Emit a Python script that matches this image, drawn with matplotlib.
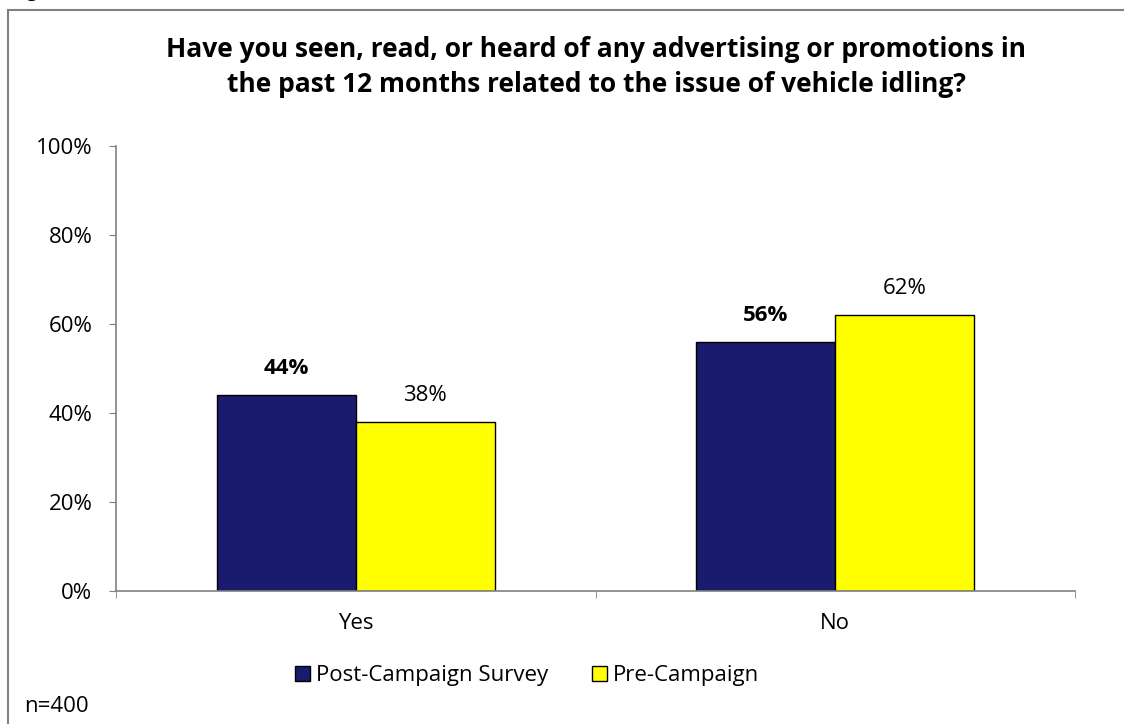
import numpy as np
import matplotlib
matplotlib.use("Agg")
import matplotlib.pyplot as plt
from matplotlib.patches import Rectangle

# Data
categories = ["Yes", "No"]
series_names = ["Post-Campaign Survey", "Pre-Campaign"]
post_campaign = [44, 56]
pre_campaign = [38, 62]
y_ticks = [0, 20, 40, 60, 80, 100]
title_lines = ["Have you seen, read, or heard of any advertising or promotions in",
               "the past 12 months related to the issue of vehicle idling?"]

plt.rcParams['font.family'] = ['Open Sans', 'DejaVu Sans']

W, H = 1124, 724
fig = plt.figure(figsize=(W / 100, H / 100), dpi=100)
ax = fig.add_axes([116 / W, 1 - 591 / H, 959 / W, 445 / H])

# outer chart frame, cut off at the right and bottom
fig.patches.append(Rectangle((8 / W, -0.1), 1.2, 1 - 10 / H + 0.1,
                             transform=fig.transFigure, fill=False,
                             edgecolor="#808080", linewidth=1.5))
fig.text(10 / W, 1 + 9 / H, "Figure 5", fontsize=14, fontweight="bold",
         va="center", ha="left")

x = np.arange(len(categories))
w = 0.29
b1 = ax.bar(x - w / 2, post_campaign, w, color="#1A1A6E", edgecolor="black",
            linewidth=1, label=series_names[0])
b2 = ax.bar(x + w / 2, pre_campaign, w, color="#FFFF00", edgecolor="black",
            linewidth=1, label=series_names[1])

for r, v in zip(b1, post_campaign):
    ax.text(r.get_x() + r.get_width() / 2, v + 6, f"{v}%", ha="center",
            va="center", fontsize=16, fontweight="bold")
for r, v in zip(b2, pre_campaign):
    ax.text(r.get_x() + r.get_width() / 2, v + 6, f"{v}%", ha="center",
            va="center", fontsize=16)

ax.set_xlim(-0.5, 1.5)
ax.set_ylim(0, 100)
ax.set_yticks(y_ticks)
ax.set_yticklabels([f"{t}%" for t in y_ticks])
ax.set_xticks(x)
ax.set_xticklabels(categories)
ax.set_xticks([-0.5, 0.5, 1.5], minor=True)
ax.tick_params(axis="x", which="major", length=0, pad=16, labelsize=16)
ax.tick_params(axis="x", which="minor", length=5, color="#808080")
ax.tick_params(axis="y", length=5, color="#808080", labelsize=16, pad=12)

for s in ["top", "right"]:
    ax.spines[s].set_visible(False)
for s in ["left", "bottom"]:
    ax.spines[s].set_color("#808080")
    ax.spines[s].set_linewidth(1.2)

# title, two lines placed on their baselines
fig.text(596 / W, 1 - 57 / H, title_lines[0], ha="center", va="baseline",
         fontsize=19, fontweight="bold")
fig.text(596 / W, 1 - 92 / H, title_lines[1], ha="center", va="baseline",
         fontsize=19, fontweight="bold")

leg = fig.legend(handles=[b1, b2], loc="center", bbox_to_anchor=(527 / W, 1 - 676 / H),
                 ncol=2, frameon=False, fontsize=16, handlelength=0.68, handleheight=0.68,
                 handletextpad=0.23, columnspacing=2.0, borderpad=0, borderaxespad=0)

fig.text(24 / W, 1 - 706 / H, "n=400", fontsize=16, va="center", ha="left")

fig.savefig("out.png", dpi=100)
